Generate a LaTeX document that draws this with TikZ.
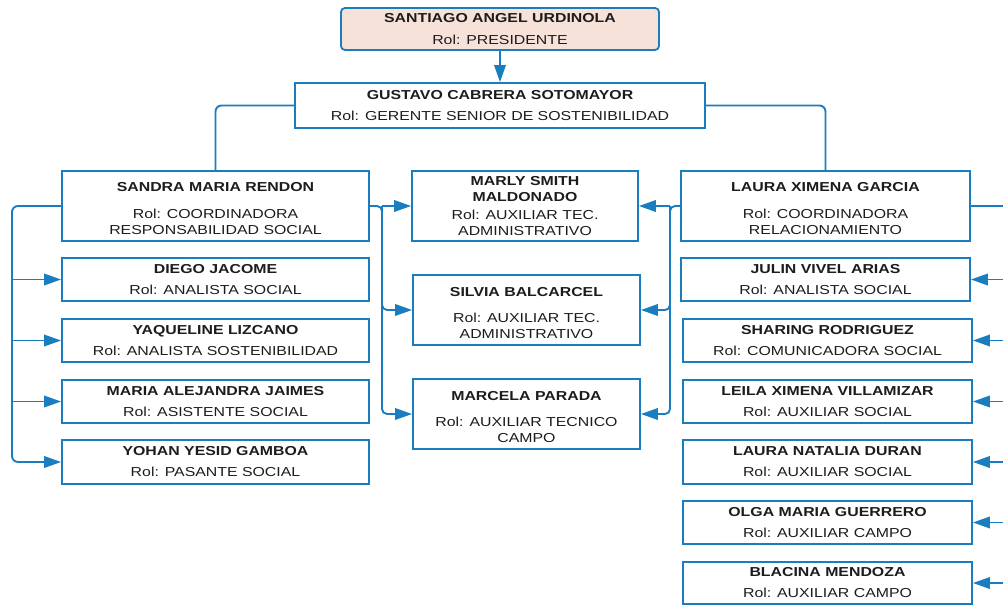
\documentclass[tikz,border=0pt]{standalone}
\usepackage{fontspec}
\setmainfont{Liberation Sans}[FakeStretch=1.22]
\usetikzlibrary{arrows.meta}

\definecolor{azulorg}{HTML}{1A7DC0}
\definecolor{rosado}{HTML}{F7E2DA}
\definecolor{tinta}{HTML}{1C1C1C}

\newcommand{\alto}{\rule{0pt}{15pt}}

\tikzset{
	persona/.style = {draw=azulorg, line width=1.8pt, rectangle, align=center,
		inner sep=0pt, text=tinta, font=\fontsize{13}{16}\selectfont},
	linea/.style = {draw=azulorg, line width=1.9pt},
	flecha/.style = {linea, -{Triangle[length=17pt,width=11.5pt]}}
}

\begin{document}
\begin{tikzpicture}[x = 1pt, y = -1pt]
	\useasboundingbox (0,0) rectangle (1003,605);
	
	% direccion
	\node[persona, fill=rosado, rounded corners=4pt, minimum width=318pt, minimum height=42pt] (santiago) at (500,29)
		{\textbf{SANTIAGO ANGEL URDINOLA}\\[6pt]Rol: PRESIDENTE};
	\node[persona, minimum width=410pt, minimum height=45pt] (gustavo) at (500,105.5)
		{\textbf{GUSTAVO CABRERA SOTOMAYOR}\\[5pt]Rol: GERENTE SENIOR DE SOSTENIBILIDAD};
	
	% columna izquierda
	\node[persona, minimum width=307pt, minimum height=70pt] (sandra) at (215.5,206)
		{\alto\textbf{SANDRA MARIA RENDON}\\[11pt]Rol: COORDINADORA\\RESPONSABILIDAD SOCIAL};
	\node[persona, minimum width=307pt, minimum height=43pt] (diego) at (215.5,279.5)
		{\textbf{DIEGO JACOME}\\[5pt]Rol: ANALISTA SOCIAL};
	\node[persona, minimum width=307pt, minimum height=43pt] (yaqueline) at (215.5,340.5)
		{\textbf{YAQUELINE LIZCANO}\\[5pt]Rol: ANALISTA SOSTENIBILIDAD};
	\node[persona, minimum width=307pt, minimum height=43pt] (mariaa) at (215.5,401.5)
		{\textbf{MARIA ALEJANDRA JAIMES}\\[5pt]Rol: ASISTENTE SOCIAL};
	\node[persona, minimum width=307pt, minimum height=44pt] (yohan) at (215.5,462)
		{\textbf{YOHAN YESID GAMBOA}\\[5pt]Rol: PASANTE SOCIAL};
	
	% columna central
	\node[persona, minimum width=226pt, minimum height=70pt] (marly) at (525,206)
		{\textbf{MARLY SMITH}\\\textbf{MALDONADO}\\[2pt]Rol: AUXILIAR TEC.\\ADMINISTRATIVO};
	\node[persona, minimum width=227pt, minimum height=70pt] (silvia) at (526.5,310)
		{\alto\textbf{SILVIA BALCARCEL}\\[10pt]Rol: AUXILIAR TEC.\\ADMINISTRATIVO};
	\node[persona, minimum width=227pt, minimum height=70pt] (marcela) at (526.5,414)
		{\alto\textbf{MARCELA PARADA}\\[10pt]Rol: AUXILIAR TECNICO\\CAMPO};
	
	% columna derecha
	\node[persona, minimum width=289pt, minimum height=70pt] (laura) at (825.5,206)
		{\alto\textbf{LAURA XIMENA GARCIA}\\[11pt]Rol: COORDINADORA\\RELACIONAMIENTO};
	\node[persona, minimum width=289pt, minimum height=43pt] (julin) at (825.5,279.5)
		{\textbf{JULIN VIVEL ARIAS}\\[5pt]Rol: ANALISTA SOCIAL};
	\node[persona, minimum width=289pt, minimum height=43pt] (sharing) at (827.5,340.5)
		{\textbf{SHARING RODRIGUEZ}\\[5pt]Rol: COMUNICADORA SOCIAL};
	\node[persona, minimum width=289pt, minimum height=43pt] (leila) at (827.5,401.5)
		{\textbf{LEILA XIMENA VILLAMIZAR}\\[5pt]Rol: AUXILIAR SOCIAL};
	\node[persona, minimum width=289pt, minimum height=44pt] (lauran) at (827.5,462)
		{\textbf{LAURA NATALIA DURAN}\\[5pt]Rol: AUXILIAR SOCIAL};
	\node[persona, minimum width=289pt, minimum height=43pt] (olga) at (827.5,522.5)
		{\textbf{OLGA MARIA GUERRERO}\\[5pt]Rol: AUXILIAR CAMPO};
	\node[persona, minimum width=289pt, minimum height=42pt] (blacina) at (827.5,583)
		{\textbf{BLACINA MENDOZA}\\[5pt]Rol: AUXILIAR CAMPO};
	
	% puntos de reparto
	\coordinate (bL) at (12,206);
	\coordinate (bM) at (382,206);
	\coordinate (bR) at (670,206);
	\coordinate (bE) at (1003,206);
	
	% conexiones
	\draw[flecha] (santiago) -- (gustavo);
	\draw[linea, rounded corners=6pt] (gustavo.west) -| (sandra.north);
	\draw[linea, rounded corners=6pt] (gustavo.east) -| (laura.north);
	
	\draw[flecha, rounded corners=6pt] (sandra.west) -- (bL) |- (yohan.west);
	\draw[flecha] (bL |- diego.west) -- (diego.west);
	\draw[flecha] (bL |- yaqueline.west) -- (yaqueline.west);
	\draw[flecha] (bL |- mariaa.west) -- (mariaa.west);
	
	\draw[flecha, rounded corners=5pt] (sandra.east) -- (bM) |- (marcela.west);
	\draw[flecha] (bM) -- (marly.west);
	\draw[flecha, rounded corners=5pt] (bM) |- (silvia.west);
	
	\draw[flecha, rounded corners=5pt] (laura.west) -- (bR) |- (marcela.east);
	\draw[flecha] (bR) -- (marly.east);
	\draw[flecha, rounded corners=5pt] (bR) |- (silvia.east);
	
	\draw[linea] (laura.east) -- (bE);
	\draw[flecha] (bE |- julin.east) -- (julin.east);
	\draw[flecha] (bE |- sharing.east) -- (sharing.east);
	\draw[flecha] (bE |- leila.east) -- (leila.east);
	\draw[flecha] (bE |- lauran.east) -- (lauran.east);
	\draw[flecha] (bE |- olga.east) -- (olga.east);
	\draw[flecha] (bE |- blacina.east) -- (blacina.east);
\end{tikzpicture}
\end{document}
